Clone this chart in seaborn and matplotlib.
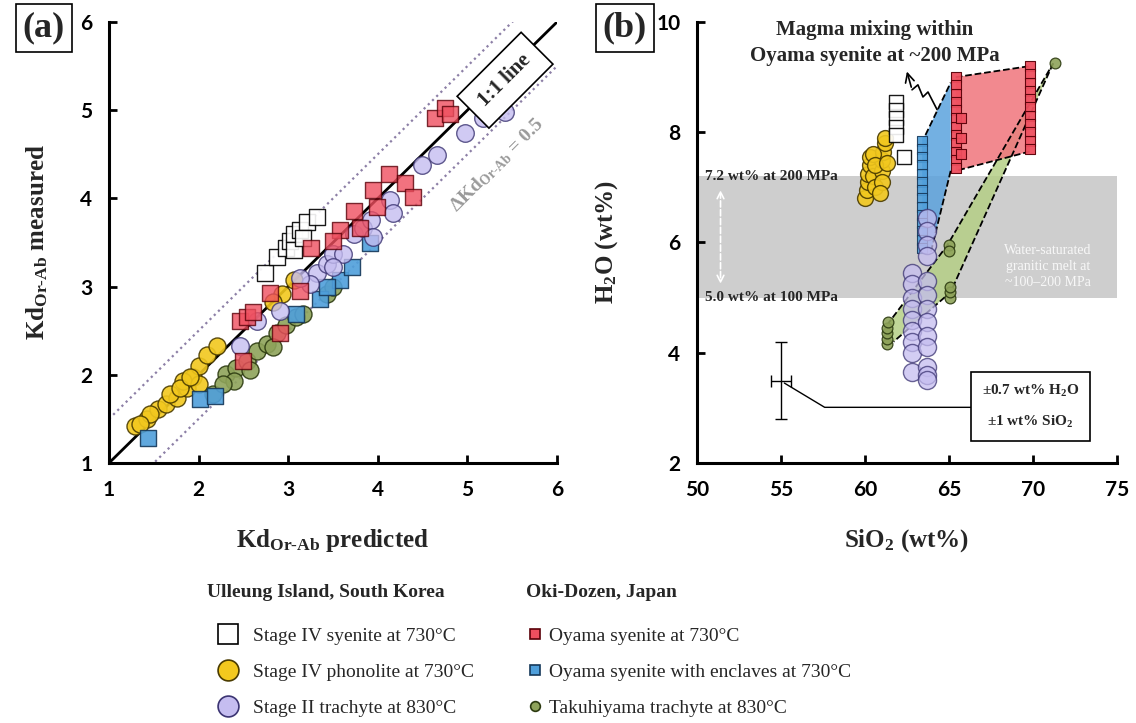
import numpy as np
import matplotlib.pyplot as plt
from matplotlib.lines import Line2D
import seaborn as sns

# ---- panel (a): Kd predicted vs measured ----
a_syen4_x = [2.74, 2.87, 2.98, 3.02, 3.06, 3.13, 3.21, 3.32, 3.06, 3.17]
a_syen4_y = [3.15, 3.33, 3.44, 3.52, 3.60, 3.64, 3.73, 3.79, 3.41, 3.55]

a_phon4_x = [1.29, 1.42, 1.55, 1.64, 1.76, 1.87, 1.94, 1.83, 2.01, 2.09, 2.20, 1.68,
             2.01, 2.93, 3.06, 2.83, 1.46, 1.35, 1.79, 1.90]
a_phon4_y = [1.42, 1.50, 1.61, 1.67, 1.74, 1.85, 1.97, 1.93, 2.10, 2.22, 2.33, 1.78,
             1.90, 2.92, 3.07, 2.82, 1.55, 1.44, 1.85, 1.97]

a_trach2_x = [3.32, 3.43, 3.50, 3.61, 3.73, 3.84, 3.92, 3.95, 3.24, 3.13, 2.46, 2.65,
              4.14, 4.17, 4.49, 4.66, 4.97, 5.17, 5.42, 2.91, 3.50]
a_trach2_y = [3.15, 3.26, 3.37, 3.37, 3.60, 3.67, 3.75, 3.56, 3.03, 3.10, 2.33, 2.61,
              3.98, 3.83, 4.38, 4.49, 4.74, 4.91, 4.98, 2.72, 3.22]

a_oyama_x = [2.46, 2.54, 2.61, 2.80, 3.26, 3.58, 3.73, 3.99, 4.12, 4.30, 4.39, 3.95,
             4.64, 4.75, 4.81, 3.13, 3.50, 3.80, 2.91, 2.50]
a_oyama_y = [2.61, 2.65, 2.71, 2.93, 3.44, 3.64, 3.86, 3.90, 4.28, 4.18, 4.02, 4.09,
             4.91, 5.02, 4.96, 2.95, 3.52, 3.67, 2.47, 2.16]

a_encl_x = [1.44, 2.02, 2.18, 3.35, 3.58, 3.71, 3.91, 3.09, 3.43]
a_encl_y = [1.28, 1.73, 1.76, 2.86, 3.07, 3.22, 3.49, 2.69, 2.99]

a_taku_x = [2.16, 2.31, 2.42, 2.54, 2.65, 2.76, 2.87, 2.98, 3.09, 3.17, 2.39, 2.57,
            2.83, 3.43, 3.50, 2.27]
a_taku_y = [1.78, 2.01, 2.08, 2.16, 2.27, 2.35, 2.47, 2.56, 2.65, 2.69, 1.93, 2.05,
            2.31, 2.92, 2.99, 1.90]

# ---- panel (b): SiO2 vs H2O ----
b_syen4_x = [61.85, 61.85, 61.85, 61.85, 61.85, 62.3]
b_syen4_y = [8.55, 8.40, 8.25, 8.10, 7.95, 7.55]

b_phon4_x = [60.0, 60.1, 60.2, 60.2, 60.3, 60.3, 60.5, 60.6, 61.0, 61.0, 61.1, 61.2,
             61.2, 61.0, 60.9, 60.5, 60.6, 61.3]
b_phon4_y = [6.80, 6.95, 7.10, 7.25, 7.40, 7.55, 7.20, 7.00, 7.30, 7.50, 7.65, 7.80,
             7.90, 7.10, 6.90, 7.60, 7.40, 7.45]

b_trach2_x = [62.8] * 9 + [63.7] * 13
b_trach2_y = [5.45, 5.25, 5.00, 4.80, 4.60, 4.40, 4.20, 4.00, 3.65,
              6.45, 6.20, 5.95, 5.75, 5.30, 5.05, 4.80, 4.55, 4.30, 4.10, 3.75, 3.60, 3.50]

b_oyama_x = [65.4] * 12 + [65.7] * 3 + [69.8] * 11
b_oyama_y = [9.00, 8.85, 8.70, 8.55, 8.40, 8.25, 8.10, 7.95, 7.80, 7.65, 7.50, 7.35,
             8.25, 7.90, 7.60,
             9.20, 9.05, 8.90, 8.75, 8.60, 8.45, 8.30, 8.15, 8.00, 7.85, 7.70]

b_encl_x = [63.4] * 14
b_encl_y = [7.85, 7.70, 7.55, 7.40, 7.25, 7.10, 6.95, 6.80, 6.65, 6.50, 6.35, 6.20,
            6.05, 5.90]

b_taku_x = [61.3, 61.3, 61.3, 61.3, 61.35, 65.0, 65.0, 65.05, 65.05, 65.05, 71.3]
b_taku_y = [4.15, 4.25, 4.35, 4.45, 4.55, 5.95, 5.85, 5.00, 5.10, 5.20, 9.25]

# mixing fields in (b)
blue_field_x = [63.4, 63.4, 63.6, 65.1, 65.1, 63.9]
blue_field_y = [5.8, 7.9, 7.95, 8.9, 7.3, 5.8]
red_field_x = [65.4, 69.8, 69.8, 65.4]
red_field_y = [9.0, 9.2, 7.65, 7.3]
green_field_x = [61.3, 64.9, 71.2, 65.1, 61.7]
green_field_y = [4.5, 5.95, 9.25, 5.1, 4.2]

water_low, water_high = 5.0, 7.2

# marker styles per group
styles = {
    'syen4': dict(marker='s', color='white', edgecolor='black'),
    'phon4': dict(marker='o', color='#f2c81e', edgecolor='#4a3b00'),
    'trach2': dict(marker='o', color='#c5bdf0', edgecolor='#3b3472'),
    'oyama': dict(marker='s', color='#ef4f5f', edgecolor='#5a0008'),
    'encl': dict(marker='s', color='#4f9fdb', edgecolor='#15385a'),
    'taku': dict(marker='o', color='#8ea35a', edgecolor='#2c3a10'),
}

sns.set_theme(style="ticks")
plt.rcParams['font.family'] = ['Liberation Serif', 'DejaVu Serif']
plt.rcParams['mathtext.fontset'] = 'custom'
plt.rcParams['mathtext.rm'] = 'Liberation Serif:bold'
plt.rcParams['mathtext.it'] = 'Liberation Serif:bold'
plt.rcParams['mathtext.bf'] = 'Liberation Serif:bold'

W, H = 1136, 723
fig = plt.figure(figsize=(W / 100, H / 100), dpi=100)
ax_a = fig.add_axes([109 / W, 1 - 463 / H, (557 - 109) / W, (463 - 22) / H])
ax_b = fig.add_axes([697 / W, 1 - 463 / H, (1117 - 697) / W, (463 - 22) / H])

TICK_FONT = dict(family='Lato', weight='bold', size=15)


def style_axes(ax):
    for s in ['top', 'right']:
        ax.spines[s].set_visible(False)
    for s in ['left', 'bottom']:
        ax.spines[s].set_linewidth(2.2)
        ax.spines[s].set_color('black')
    ax.tick_params(direction='in', length=6, width=2, colors='black', pad=12)
    for lab in ax.get_xticklabels() + ax.get_yticklabels():
        lab.set_fontfamily(TICK_FONT['family'])
        lab.set_fontweight(TICK_FONT['weight'])
        lab.set_fontsize(TICK_FONT['size'])


def scatter(ax, x, y, key, s, alpha=0.9, lw=1.0, z=3):
    st = styles[key]
    sns.scatterplot(x=x, y=y, ax=ax, marker=st['marker'], color=st['color'],
                    edgecolor=st['edgecolor'], s=s, linewidth=lw, alpha=alpha,
                    zorder=z, legend=False)


# ---------- (a) ----------
ax_a.set_xlim(1, 6)
ax_a.set_ylim(1, 6)
ax_a.set_xticks([1, 2, 3, 4, 5, 6])
ax_a.set_yticks([1, 2, 3, 4, 5, 6])
line = np.array([1, 6])
ax_a.plot(line, line, color='black', lw=2, zorder=2)
ax_a.plot(line, line + 0.5, color='#8c7fa6', lw=1.6, ls=':', zorder=2)
ax_a.plot(line, line - 0.5, color='#8c7fa6', lw=1.6, ls=':', zorder=2)

scatter(ax_a, a_phon4_x, a_phon4_y, 'phon4', 150)
scatter(ax_a, a_taku_x, a_taku_y, 'taku', 150)
scatter(ax_a, a_syen4_x, a_syen4_y, 'syen4', 140)
scatter(ax_a, a_encl_x, a_encl_y, 'encl', 140)
scatter(ax_a, a_trach2_x, a_trach2_y, 'trach2', 160, alpha=0.8)
scatter(ax_a, a_oyama_x, a_oyama_y, 'oyama', 140, alpha=0.8)

ax_a.text(5.42, 5.34, '1:1 line', rotation=45, rotation_mode='anchor', ha='center',
          va='center', fontsize=15, fontweight='bold', zorder=5,
          bbox=dict(boxstyle='square,pad=0.6', fc='white', ec='black', lw=1.2))
ax_a.text(5.33, 4.38, r'$\Delta$Kd$_{\mathrm{Or‐Ab}}$ = 0.5', rotation=45,
          rotation_mode='anchor', ha='center', va='center', fontsize=14,
          fontweight='bold', color='#9a9a9a', zorder=5)

ax_a.set_xlabel(r'Kd$_{\mathrm{Or‐Ab}}$ predicted', fontsize=18, fontweight='bold', labelpad=20)
ax_a.set_ylabel(r'Kd$_{\mathrm{Or‐Ab}}$ measured', fontsize=18, fontweight='bold', labelpad=22)
style_axes(ax_a)

# ---------- (b) ----------
ax_b.set_xlim(50, 75)
ax_b.set_ylim(2, 10)
ax_b.set_xticks([50, 55, 60, 65, 70, 75])
ax_b.set_yticks([2, 4, 6, 8, 10])

ax_b.axhspan(water_low, water_high, color='#c9c9c9', alpha=0.9, lw=0, zorder=0)
ax_b.text(50.5, water_high, '7.2 wt% at 200 MPa', ha='left', va='center', fontsize=11,
          fontweight='bold', zorder=6)
ax_b.text(50.5, water_low, '5.0 wt% at 100 MPa', ha='left', va='center', fontsize=11,
          fontweight='bold', zorder=6)
ax_b.annotate('', xy=(51.4, 5.2), xytext=(51.4, 7.0),
              arrowprops=dict(arrowstyle='<->', color='white', lw=1.2, ls='--'), zorder=1)
ax_b.text(70.9, 5.56, 'Water-saturated\ngranitic melt at\n~100–200 MPa', ha='center',
          va='center', fontsize=10, color='white', alpha=0.85, linespacing=1.3, zorder=1)

ax_b.fill(green_field_x, green_field_y, color='#b5cf86', alpha=0.85, lw=0, zorder=1)
ax_b.fill(blue_field_x, blue_field_y, color='#5ba2dd', alpha=0.85, lw=0, zorder=1)
ax_b.fill(red_field_x, red_field_y, color='#f0747c', alpha=0.85, lw=0, zorder=1)
dash = dict(color='black', lw=1.3, ls='--', zorder=2)
ax_b.plot([blue_field_x[2], blue_field_x[3]], [blue_field_y[2], blue_field_y[3]], **dash)
ax_b.plot([blue_field_x[4], blue_field_x[5]], [blue_field_y[4], blue_field_y[5]], **dash)
ax_b.plot(red_field_x[:2], red_field_y[:2], **dash)
ax_b.plot(red_field_x[2:], red_field_y[2:], **dash)
ax_b.plot(green_field_x[:3], green_field_y[:3], **dash)
ax_b.plot(green_field_x[2:], green_field_y[2:], **dash)

scatter(ax_b, b_phon4_x, b_phon4_y, 'phon4', 130)
scatter(ax_b, b_syen4_x, b_syen4_y, 'syen4', 110)
scatter(ax_b, b_encl_x, b_encl_y, 'encl', 45, lw=0.8)
scatter(ax_b, b_trach2_x, b_trach2_y, 'trach2', 170, alpha=0.75)
scatter(ax_b, b_oyama_x, b_oyama_y, 'oyama', 55, lw=0.8, alpha=0.95)
scatter(ax_b, b_taku_x, b_taku_y, 'taku', 60, lw=0.9)

# analytical uncertainty
ax_b.errorbar(55, 3.49, xerr=0.6, yerr=0.7, color='black', lw=1, capsize=4, zorder=4)
ax_b.plot([55.2, 57.6, 66.3], [3.45, 3.01, 3.01], color='black', lw=1, zorder=4)
ax_b.text(69.85, 3.02, '±0.7 wt% H$_2$O\n\n±1 wt% SiO$_2$', ha='center', va='center',
          fontsize=11, fontweight='bold', linespacing=1.1, zorder=5,
          bbox=dict(boxstyle='square,pad=0.7', fc='white', ec='black', lw=1.2))

ax_b.text(60.6, 9.62, 'Magma mixing within\nOyama syenite at ~200 MPa', ha='center',
          va='center', fontsize=15, fontweight='bold', linespacing=1.35, zorder=5)
zig_x = [62.80, 63.15, 63.45, 63.75, 64.29]
zig_y = [8.77, 8.86, 8.64, 8.73, 8.41]
ax_b.plot(zig_x, zig_y, color='black', lw=1.2, zorder=5)
ax_b.annotate('', xy=(62.45, 9.15), xytext=(zig_x[0], zig_y[0]),
              arrowprops=dict(arrowstyle='->', color='black', lw=1.2, mutation_scale=16),
              zorder=5)

ax_b.set_xlabel('SiO$_2$ (wt%)', fontsize=18, fontweight='bold', labelpad=20)
ax_b.set_ylabel('H$_2$O (wt%)', fontsize=18, fontweight='bold', labelpad=26)
style_axes(ax_b)

# panel tags
for x0, tag in [(44 / W, '(a)'), (625 / W, '(b)')]:
    fig.text(x0, 1 - 28 / H, tag, ha='center', va='center', fontsize=26, fontweight='bold',
             bbox=dict(boxstyle='square,pad=0.2', fc='white', ec='black', lw=1.2))

# legend
def handle(key, ms):
    st = styles[key]
    return Line2D([], [], ls='', marker=st['marker'], ms=ms, mfc=st['color'],
                  mec=st['edgecolor'] if key != 'syen4' else 'black', mew=1.2)


title_font = dict(weight='bold', size=14, family='Liberation Serif')
leg1 = fig.legend([handle('syen4', 15), handle('phon4', 15), handle('trach2', 15)],
                  ['Stage IV syenite at 730°C', 'Stage IV phonolite at 730°C',
                   'Stage II trachyte at 830°C'],
                  title='Ulleung Island, South Korea', loc='upper left',
                  bbox_to_anchor=(201 / W, 1 - 578 / H), frameon=False, fontsize=14,
                  title_fontproperties=title_font, alignment='left', labelspacing=0.95,
                  handlelength=2.2, handletextpad=0.15, borderaxespad=0, borderpad=0.3)
leg1._legend_box.sep = 19
leg2 = fig.legend([handle('oyama', 7), handle('encl', 7), handle('taku', 7)],
                  ['Oyama syenite at 730°C', 'Oyama syenite with enclaves at 730°C',
                   'Takuhiyama trachyte at 830°C'],
                  title='Oki-Dozen, Japan', loc='upper left',
                  bbox_to_anchor=(520 / W, 1 - 578 / H), frameon=False, fontsize=14,
                  title_fontproperties=title_font, alignment='left', labelspacing=0.95,
                  handlelength=0.9, handletextpad=0.3, borderaxespad=0, borderpad=0.3)
leg2._legend_box.sep = 19

fig.savefig('out.png', dpi=100, facecolor='white')
